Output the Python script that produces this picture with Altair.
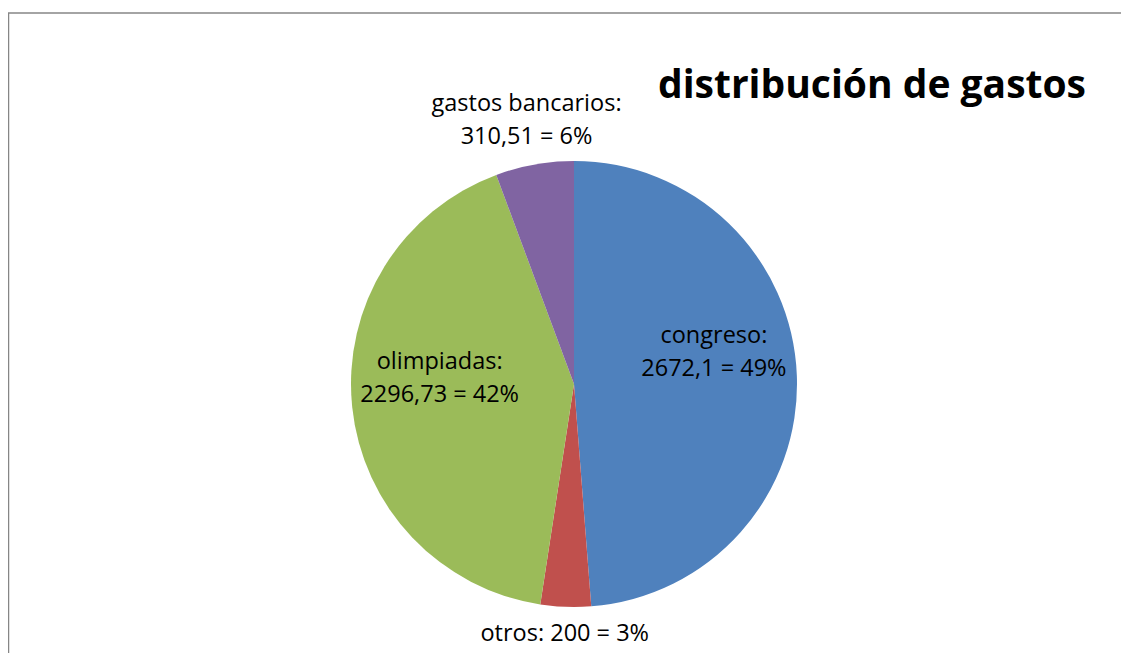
import altair as alt
import pandas as pd

categories = ["congreso", "otros", "olimpiadas", "gastos bancarios"]
values = [2672.1, 200, 2296.73, 310.51]
value_text = ["2672,1", "200", "2296,73", "310,51"]
percent_text = ["49%", "3%", "42%", "6%"]
colors = ["#4F81BD", "#C0504D", "#9BBB59", "#8064A2"]
title_text = "distribución de gastos"

labels = []
for c, v, p in zip(categories, value_text, percent_text):
    sep = " " if c == "otros" else "\n"
    labels.append(f"{c}:{sep}{v} = {p}")

df = pd.DataFrame({
    "cat": categories,
    "value": values,
    "order": list(range(len(categories))),
    "label": labels,
})

W, H = 1113, 645
CX, CY = 566, 376
R = 223
FONT = "Open Sans"
FS = 23.5

base = alt.Chart(df).encode(
    theta=alt.Theta("value:Q", stack=True),
    order=alt.Order("order:Q"),
    x=alt.value(CX),
    y=alt.value(CY),
)

pie = base.mark_arc(outerRadius=R).encode(
    color=alt.Color("cat:N", scale=alt.Scale(domain=categories, range=colors), legend=None)
)

def label_layer(cat, radius, dx, dy):
    return base.transform_calculate(
        t=f"datum.cat == '{cat}' ? datum.label : ''"
    ).mark_text(
        radius=radius, dx=dx, dy=dy, font=FONT, fontSize=FS, color="black",
        align="center", baseline="middle", lineBreak="\n", lineHeight=33,
    ).encode(text="t:N")

lab_con = label_layer("congreso", 140, 0, -43)
lab_olim = label_layer("olimpiadas", 135, 0, -36)
lab_gas = label_layer("gastos bancarios", 268, 0, -16)
lab_otr = label_layer("otros", 249, 0, 1)

one = pd.DataFrame({"a": [0]})
border_top = alt.Chart(one).mark_rule(color="#868686", strokeWidth=1.5).encode(
    x=alt.value(0), x2=alt.value(W), y=alt.value(5)
)
border_left = alt.Chart(one).mark_rule(color="#868686", strokeWidth=2.5).encode(
    x=alt.value(0), y=alt.value(5), y2=alt.value(H)
)
title = alt.Chart(one).mark_text(
    text=title_text, font=FONT, fontSize=39, fontWeight="bold", color="black",
    align="center", baseline="alphabetic",
).encode(x=alt.value(864), y=alt.value(90))

chart = alt.layer(
    border_top, border_left, pie, lab_con, lab_olim, lab_gas, lab_otr, title
).properties(
    width=W, height=H, autosize="none", padding=0
).configure_view(stroke=None)

chart.save("out.html", embed_options={"renderer": "svg", "actions": False})
